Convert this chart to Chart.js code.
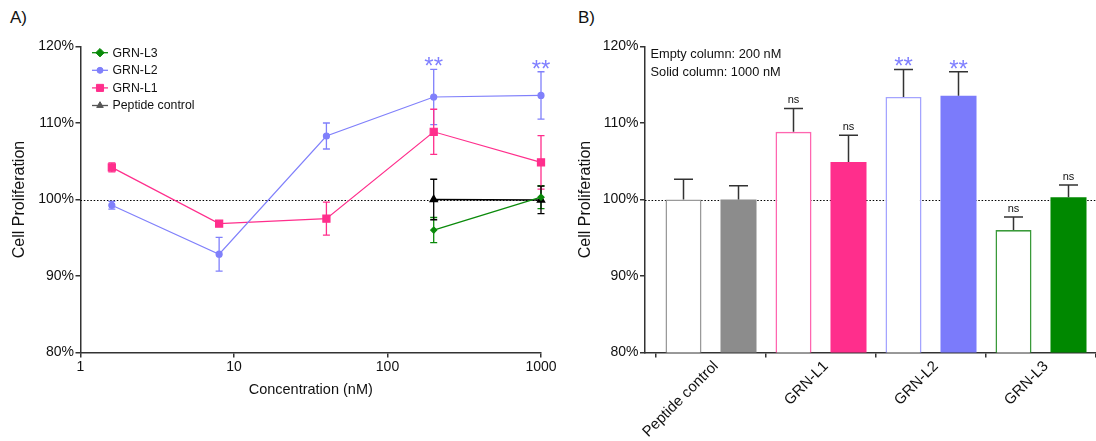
<!DOCTYPE html>
<html>
<head>
<meta charset="utf-8">
<script src="https://cdn.jsdelivr.net/npm/chart.js@4"></script>
<style>
  body { margin:0; background:#fff; width:1096px; height:441px; overflow:hidden; position:relative;
         font-family:'Liberation Sans', Arial, sans-serif; }
  #cA { position:absolute; left:0; top:0; }
  #cB { position:absolute; left:560px; top:0; }
  .panel { position:absolute; font-size:17px; color:#111; line-height:20px; }
</style>
</head>
<body>
<div class="panel" style="left:10px;top:8px">A)</div>
<div class="panel" style="left:578px;top:8px">B)</div>
<canvas id="cA" width="560" height="441"></canvas>
<canvas id="cB" width="536" height="441"></canvas>
<script>
// ---------------- data: panel A ----------------
const concentrations = [1.6, 8, 40, 200, 1000];
const xTickValues = [1, 10, 100, 1000];
const grnL3 = [null, null, null, 96.0, 100.3];
const grnL3Err = [null, null, null, 1.65, 1.5];
const grnL2 = [99.25, 92.85, 108.3, 113.4, 113.6];
const grnL2Err = [0.5, 2.2, 1.7, 3.6, 3.1];
const grnL1 = [104.2, 96.85, 97.5, 108.85, 104.85];
const grnL1Err = [0.6, 0.2, 2.15, 2.95, 3.5];
const peptideControl = [null, null, null, 100.0, 99.95];
const peptideControlErr = [null, null, null, 2.65, 1.8];
const grnL2Sig = ['', '', '', '**', '**'];

// ---------------- data: panel B ----------------
const barCategories = ['Peptide control', 'GRN-L1', 'GRN-L2', 'GRN-L3'];
const empty200 = [100.0, 108.85, 113.4, 96.0];
const empty200Err = [2.65, 3.05, 3.6, 1.7];
const solid1000 = [100.0, 104.9, 113.55, 100.3];
const solid1000Err = [1.8, 3.5, 3.15, 1.6];
const sig200 = ['', 'ns', '**', 'ns'];
const sig1000 = ['', 'ns', '**', 'ns'];

const yTickValues = [80, 90, 100, 110, 120];
const REFERENCE = 100;

// ---------------- styles ----------------
const FONT = "'Liberation Sans', Arial, sans-serif";
Chart.defaults.font.family = FONT;
Chart.defaults.color = '#111';

const C_L3 = '#0a8a0a', C_L2 = '#8080fb', C_L1 = '#ff2e8c', C_PC = '#000';
const SIG_COLOR = '#8080ff';
const AXIS = '#333';

function pts(xs, ys) { return xs.map((x, i) => ({ x: x, y: ys[i] })); }

const refLine = {
  id: 'refLine',
  beforeDatasetsDraw(chart) {
    const { ctx, chartArea: a, scales: { y } } = chart;
    const py = Math.round(y.getPixelForValue(REFERENCE)) + 0.5;
    ctx.save();
    ctx.strokeStyle = '#000'; ctx.lineWidth = 1.2; ctx.setLineDash([1.5, 1.8]);
    ctx.beginPath(); ctx.moveTo(a.left, py); ctx.lineTo(a.right, py); ctx.stroke();
    ctx.restore();
  }
};

const lineErrors = {
  id: 'lineErrors',
  beforeDatasetsDraw(chart) {
    const { ctx, scales: { y } } = chart;
    chart.data.datasets.forEach((ds, i) => {
      const meta = chart.getDatasetMeta(i);
      meta.data.forEach((el, j) => {
        const v = ds.data[j].y, e = ds.errorBars[j];
        if (v == null || e == null) return;
        const t = y.getPixelForValue(v + e), b = y.getPixelForValue(v - e);
        ctx.save();
        ctx.strokeStyle = ds.errorColor || ds.borderColor; ctx.lineWidth = 1.3;
        ctx.beginPath();
        ctx.moveTo(el.x, t); ctx.lineTo(el.x, b);
        ctx.moveTo(el.x - 3.5, t); ctx.lineTo(el.x + 3.5, t);
        ctx.moveTo(el.x - 3.5, b); ctx.lineTo(el.x + 3.5, b);
        ctx.stroke();
        ctx.restore();
      });
    });
  },
  afterDatasetsDraw(chart) {
    const { ctx, scales: { y } } = chart;
    chart.data.datasets.forEach((ds, i) => {
      if (!ds.sig) return;
      const meta = chart.getDatasetMeta(i);
      meta.data.forEach((el, j) => {
        const s = ds.sig[j];
        if (!s) return;
        const t = y.getPixelForValue(ds.data[j].y + ds.errorBars[j]);
        ctx.save();
        ctx.font = '24px ' + FONT; ctx.fillStyle = SIG_COLOR;
        ctx.textAlign = 'center'; ctx.textBaseline = 'alphabetic';
        ctx.fillText(s, el.x, t + 5);
        ctx.restore();
      });
    });
  }
};

function drawMarker(ctx, style, r, x, y, color) {
  ctx.save();
  ctx.fillStyle = color; ctx.strokeStyle = color; ctx.lineWidth = 1;
  Chart.helpers.drawPoint(ctx, { pointStyle: style, radius: r, rotation: 0, borderWidth: 1 }, x, y);
  ctx.restore();
}

const customLegend = {
  id: 'customLegend',
  afterDraw(chart) {
    const { ctx } = chart;
    const items = chart.data.datasets;
    items.forEach((ds, i) => {
      const y = 52.7 + i * 17.6;
      const col = ds.legendColor || ds.borderColor;
      ctx.save();
      ctx.strokeStyle = col; ctx.lineWidth = 1.3;
      ctx.beginPath(); ctx.moveTo(92, y); ctx.lineTo(108, y); ctx.stroke();
      drawMarker(ctx, ds.pointStyle, ds.legendRadius || ds.pointRadius, 100, y, col);
      ctx.fillStyle = '#111'; ctx.font = '12.3px ' + FONT;
      ctx.textAlign = 'left'; ctx.textBaseline = 'middle';
      ctx.fillText(ds.label, 112.5, y + 0.5);
      ctx.restore();
    });
  }
};

const axisCommon = {
  grid: { display: true, drawOnChartArea: false, drawTicks: true, tickLength: 5, color: AXIS, lineWidth: 1.5 },
  border: { display: true, color: AXIS, width: 1.5 }
};

new Chart(document.getElementById('cA'), {
  type: 'line',
  data: {
    datasets: [
      { label: 'GRN-L3', data: pts(concentrations, grnL3), errorBars: grnL3Err, borderColor: C_L3, backgroundColor: C_L3,
        pointStyle: 'rectRot', pointRadius: 3, legendRadius: 4.2, borderWidth: 1.3 },
      { label: 'GRN-L2', data: pts(concentrations, grnL2), errorBars: grnL2Err, sig: grnL2Sig, borderColor: C_L2, backgroundColor: C_L2,
        pointStyle: 'circle', pointRadius: 3, legendRadius: 3, borderWidth: 1.2 },
      { label: 'GRN-L1', data: pts(concentrations, grnL1), errorBars: grnL1Err, borderColor: C_L1, backgroundColor: C_L1,
        pointStyle: 'rect', pointRadius: 5, legendRadius: 5, borderWidth: 1.2 },
      { label: 'Peptide control', data: pts(concentrations, peptideControl), errorBars: peptideControlErr, borderColor: C_PC, backgroundColor: C_PC,
        legendColor: '#555', pointStyle: 'triangle', pointRadius: 4, legendRadius: 3.8, borderWidth: 1.5 }
    ]
  },
  options: {
    responsive: false, animation: false,
    layout: { padding: { top: 46.5, right: 19, left: 0, bottom: 0 } },
    plugins: { legend: { display: false }, tooltip: { enabled: false } },
    elements: { line: { tension: 0 }, point: { borderWidth: 1 } },
    datasets: { line: { clip: false } },
    scales: {
      x: {
        type: 'logarithmic', min: 1, max: 1000,
        afterFit(s) { s.height = 88.5; },
        afterBuildTicks(s) { s.ticks = xTickValues.map(v => ({ value: v })); },
        ticks: { callback: v => String(v), autoSkip: false, maxRotation: 0, font: { size: 14 }, color: '#111', padding: 1 },
        ...axisCommon,
        title: { display: true, text: 'Concentration (nM)', font: { size: 14.5 }, color: '#111', padding: { top: 0, bottom: 42 } }
      },
      y: {
        min: 80, max: 120,
        afterFit(s) { s.width = 80.5; },
        afterBuildTicks(s) { s.ticks = yTickValues.map(v => ({ value: v })); },
        ticks: { callback: v => v + '%', font: { size: 14 }, color: '#111', padding: 1.5 },
        ...axisCommon,
        title: { display: true, text: 'Cell Proliferation', font: { size: 16 }, color: '#111', padding: { top: 9.5, bottom: 0 } }
      }
    }
  },
  plugins: [refLine, lineErrors, customLegend]
});

// ---------------- panel B ----------------
const emptyBorders = ['#9a9a9a', '#ff66b0', '#a4a4ff', '#3a9a3a'];
const solidFills = ['#8c8c8c', '#ff2e8c', '#7b7bfb', '#008800'];

const barErrors = {
  id: 'barErrors',
  afterDatasetsDraw(chart) {
    const { ctx, scales: { y } } = chart;
    chart.data.datasets.forEach((ds, i) => {
      const meta = chart.getDatasetMeta(i);
      meta.data.forEach((el, j) => {
        const v = ds.data[j].y, e = ds.errorBars[j];
        const t = y.getPixelForValue(v + e);
        ctx.save();
        ctx.strokeStyle = '#333'; ctx.lineWidth = 1.5;
        ctx.beginPath();
        ctx.moveTo(el.x, el.y); ctx.lineTo(el.x, t);
        ctx.moveTo(el.x - 9.5, t); ctx.lineTo(el.x + 9.5, t);
        ctx.stroke();
        const s = ds.sig[j];
        if (s === '**') {
          ctx.font = '24px ' + FONT; ctx.fillStyle = SIG_COLOR;
          ctx.textAlign = 'center'; ctx.textBaseline = 'alphabetic';
          ctx.fillText(s, el.x, t + 5);
        } else if (s) {
          ctx.font = '11px ' + FONT; ctx.fillStyle = '#111';
          ctx.textAlign = 'center'; ctx.textBaseline = 'alphabetic';
          ctx.fillText(s, el.x, t - 5);
        }
        ctx.restore();
      });
    });
  }
};

const noteText = {
  id: 'noteText',
  afterDraw(chart) {
    const { ctx } = chart;
    ctx.save();
    ctx.font = '12.8px ' + FONT; ctx.fillStyle = '#111';
    ctx.textAlign = 'left'; ctx.textBaseline = 'middle';
    ctx.fillText('Empty column: 200 nM', 90.5, 54.5);
    ctx.fillText('Solid column: 1000 nM', 90.5, 72);
    ctx.restore();
  }
};

new Chart(document.getElementById('cB'), {
  type: 'bar',
  data: {
    datasets: [
      { label: '200 nM', data: pts(barCategories.map((c, i) => i), empty200), errorBars: empty200Err, sig: sig200,
        backgroundColor: '#fff', borderColor: emptyBorders, borderWidth: 1.6, borderSkipped: 'start',
        barPercentage: 0.655, categoryPercentage: 1.0 },
      { label: '1000 nM', data: pts(barCategories.map((c, i) => i), solid1000), errorBars: solid1000Err, sig: sig1000,
        backgroundColor: solidFills, borderWidth: 0,
        barPercentage: 0.655, categoryPercentage: 1.0 }
    ]
  },
  options: {
    responsive: false, animation: false,
    layout: { padding: { top: 46.5, right: 0, left: 0, bottom: 0 } },
    plugins: { legend: { display: false }, tooltip: { enabled: false } },
    scales: {
      x: {
        type: 'linear', min: -0.6, max: 3.5, offset: false,
        afterFit(s) { s.height = 88.5; },
        afterBuildTicks(s) { s.ticks = barCategories.map((c, i) => ({ value: i })); },
        ticks: { callback: v => barCategories[v], autoSkip: false, minRotation: 45, maxRotation: 45,
                 font: { size: 15 }, color: '#111', padding: 0, labelOffset: 5 },
        ...axisCommon
      },
      y: {
        min: 80, max: 120,
        afterFit(s) { s.width = 85; },
        afterBuildTicks(s) { s.ticks = yTickValues.map(v => ({ value: v })); },
        ticks: { callback: v => v + '%', font: { size: 14 }, color: '#111', padding: 1.5 },
        ...axisCommon,
        title: { display: true, text: 'Cell Proliferation', font: { size: 16 }, color: '#111', padding: { top: 15.5, bottom: 0 } }
      }
    }
  },
  plugins: [refLine, barErrors, noteText]
});
</script>
</body>
</html>
